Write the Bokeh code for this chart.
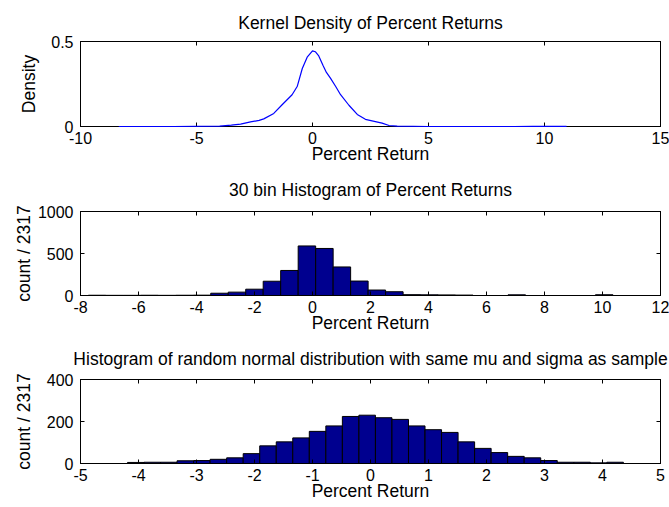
import numpy as np
from bokeh.plotting import figure
from bokeh.layouts import column
from bokeh.models import FixedTicker, LinearAxis, CustomJSTickFormatter, Range1d
from bokeh.embed import file_html
from bokeh.resources import INLINE

# ---- data ----
kde_x = [-8.35, -6.0, -4.0, -3.5, -3.1, -2.67, -2.3, -2.1, -1.67, -1.31, -0.88, -0.66, -0.44,
         -0.23, 0.0, 0.12, 0.27, 0.45, 0.6, 0.78, 1.0, 1.21, 1.57, 1.93, 2.28, 2.71, 3.0, 3.3,
         3.65, 5.0, 7.9, 8.3, 8.7, 9.5, 10.95]
kde_y = [0.0, 0.0, 0.002, 0.008, 0.014, 0.027, 0.036, 0.045, 0.077, 0.128, 0.187, 0.235, 0.341,
         0.408, 0.445, 0.44, 0.415, 0.36, 0.318, 0.283, 0.235, 0.187, 0.125, 0.071, 0.042, 0.029,
         0.02, 0.006, 0.002, 0.0, 0.0, 0.0, 0.0, 0.001, 0.001]

hist1_min, hist1_max = -7.73, 10.36
hist1_counts = [3, 2, 2, 3, 2, 3, 4, 27, 40, 75, 170, 298, 590, 560, 340, 172, 65, 45,
                10, 8, 7, 5, 0, 0, 8, 0, 0, 0, 0, 9]

hist2_min, hist2_max = -4.19, 4.36
hist2_counts = [5, 6, 6, 13, 14, 20, 27, 47, 84, 103, 122, 153, 179, 224, 230, 218, 210, 179,
                161, 148, 103, 72, 52, 34, 27, 14, 6, 6, 3, 6]

x_ticks1 = [-10, -5, 0, 5, 10, 15]
y_ticks1 = [0, 0.5]
x_ticks2 = [-8, -6, -4, -2, 0, 2, 4, 6, 8, 10, 12]
y_ticks2 = [0, 500, 1000]
x_ticks3 = [-5, -4, -3, -2, -1, 0, 1, 2, 3, 4, 5]
y_ticks3 = [0, 200, 400]

FONT = "Liberation Sans"
FS = "16px"
FS_LABEL = "17.5px"


def style_axis(ax, ticks, labels=True):
    ax.ticker = FixedTicker(ticks=ticks)
    ax.formatter = CustomJSTickFormatter(code="return tick.toString()" if labels else "return ''")
    ax.major_tick_in = 4
    ax.major_tick_out = 0
    ax.minor_tick_line_color = None
    ax.axis_line_color = "black"
    ax.major_tick_line_color = "black"
    ax.major_label_text_font = FONT
    ax.major_label_text_font_size = FS if labels else "0px"
    ax.major_label_text_color = "black"
    ax.axis_label_text_font = FONT
    ax.axis_label_text_font_size = FS_LABEL
    ax.axis_label_text_font_style = "normal"
    ax.axis_label_text_color = "black"


def make_fig(height, top, bottom, xr, yr, xticks, yticks, title, ylabel, ylab_standoff,
             title_standoff):
    p = figure(width=669, height=height, x_range=Range1d(*xr), y_range=Range1d(*yr),
               output_backend="svg", toolbar_location=None,
               min_border_left=80, min_border_right=9, min_border_top=top,
               min_border_bottom=bottom, x_axis_label="Percent Return",
               y_axis_label=ylabel, title=title)
    p.title.align = "center"
    p.title.text_font = FONT
    p.title.text_font_size = FS_LABEL
    p.title.text_font_style = "normal"
    p.title.text_color = "black"
    p.title.standoff = title_standoff
    p.xgrid.visible = False
    p.ygrid.visible = False
    p.outline_line_color = "black"
    p.outline_line_alpha = 1
    style_axis(p.xaxis[0], xticks)
    style_axis(p.yaxis[0], yticks)
    p.xaxis.major_label_standoff = 5
    p.xaxis.axis_label_standoff = -3
    p.yaxis.major_label_standoff = 7
    p.yaxis.axis_label_standoff = ylab_standoff
    for loc, ticks in (("above", xticks), ("right", yticks)):
        ax = LinearAxis()
        style_axis(ax, ticks, labels=False)
        ax.major_label_standoff = 0
        p.add_layout(ax, loc)
    return p


p1 = make_fig(166, 41, 39, (-10, 15), (0, 0.5), x_ticks1, y_ticks1,
              "Kernel Density of Percent Returns", "Density", 9, 18)
p1.line(kde_x, kde_y, line_color="#0000FF", line_width=1.2, level="overlay")

e1 = np.linspace(hist1_min, hist1_max, len(hist1_counts) + 1)
p2 = make_fig(170, 44, 41, (-8, 12), (0, 1000), x_ticks2, y_ticks2,
              "30 bin Histogram of Percent Returns", "count / 2317", 1, 23)
p2.quad(left=e1[:-1], right=e1[1:], bottom=0, top=hist1_counts,
        fill_color="#00008F", line_color="black", line_width=1)

e2 = np.linspace(hist2_min, hist2_max, len(hist2_counts) + 1)
p3 = make_fig(171, 43, 44, (-5, 5), (0, 400), x_ticks3, y_ticks3,
              "Histogram of random normal distribution with same mu and sigma as sample",
              "count / 2317", 10, 21)
p3.quad(left=e2[:-1], right=e2[1:], bottom=0, top=hist2_counts,
        fill_color="#00008F", line_color="black", line_width=1)

layout = column(p1, p2, p3, spacing=0)
open("out.html", "w").write(file_html(layout, INLINE))
